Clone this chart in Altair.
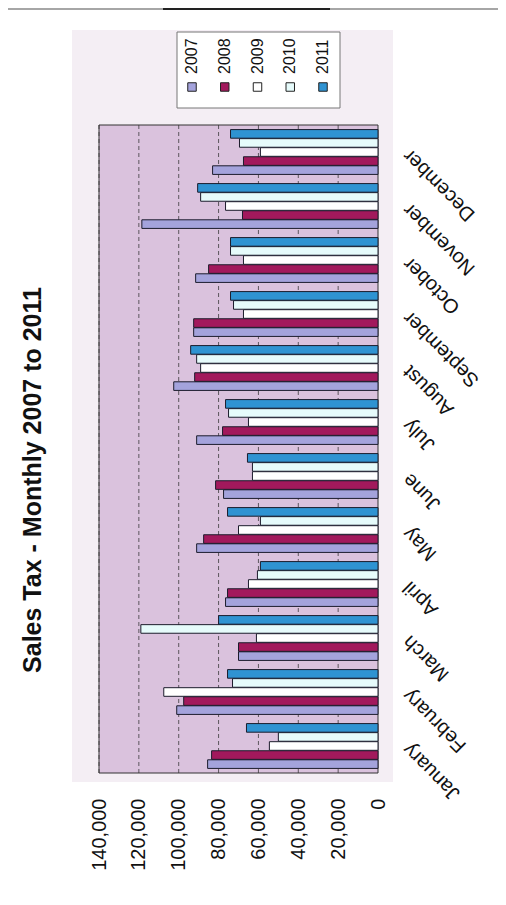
import altair as alt
import pandas as pd

months = ["January", "February", "March", "April", "May", "June", "July",
          "August", "September", "October", "November", "December"]
years = ["2007", "2008", "2009", "2010", "2011"]

v2007 = [85500, 101000, 70000, 76500, 91000, 77500, 91000, 102500, 92500, 91500, 118500, 83000]
v2008 = [83500, 97500, 70000, 75500, 87500, 81500, 78000, 92000, 92500, 85000, 68000, 67500]
v2009 = [54500, 107500, 61000, 65000, 70000, 63000, 65000, 89000, 67500, 67500, 76500, 59000]
v2010 = [50000, 73000, 119000, 60500, 59000, 63000, 75000, 91000, 72500, 74000, 89000, 69500]
v2011 = [66000, 75500, 80000, 59000, 75500, 65500, 76500, 94000, 74000, 74000, 90500, 74000]

tick_values = [0, 20000, 40000, 60000, 80000, 100000, 120000, 140000]
title_text = "Sales Tax - Monthly 2007 to 2011"

rows = []
for yr, vals in zip(years, [v2007, v2008, v2009, v2010, v2011]):
    for m, v in zip(months, vals):
        rows.append({"month": m, "year": yr, "value": v})
df = pd.DataFrame(rows)
one = pd.DataFrame({"k": [0]})
grid_df = pd.DataFrame({"tick": tick_values[1:]})
leg_df = pd.DataFrame({"year": years})

W, H = 279, 648
FONT = "Liberation Sans"
colors = ["#a4a3dc", "#a2195c", "#ffffff", "#e6fbfb", "#2f93d2"]
color_scale = alt.Scale(domain=years, range=colors)
xscale = alt.Scale(domain=[0, 140000], reverse=True, nice=False)

x_axis = alt.Axis(values=tick_values, format=",d", labelAngle=270, labelFontSize=20,
                  labelFont=FONT, labelColor="#111", labelPadding=25, ticks=False,
                  domain=False, grid=False, title=None, labelFlush=False,
                  labelOverlap=False)
y_axis = alt.Axis(orient="right", labelAngle=225, labelAlign="right",
                  labelBaseline="middle", labelFontSize=20, labelFont=FONT,
                  labelColor="#111", labelPadding=24, tickBand="extent", tickSize=4,
                  tickColor="#111", domainColor="#111", title=None, labelOverlap=False)

panel = alt.Chart(one).mark_rect(fill="#f4eef4").encode(
    x=alt.value(-27), x2=alt.value(294), y=alt.value(-95), y2=alt.value(657))
plotbg = alt.Chart(one).mark_rect(fill="#dac2dd", stroke="#333", strokeWidth=1).encode(
    x=alt.value(0), x2=alt.value(W), y=alt.value(0), y2=alt.value(H))
top_line = alt.Chart(one).mark_rule(color="#888", strokeWidth=1.5).encode(
    x=alt.value(-91), x2=alt.value(399), y=alt.value(-116))
top_dark = alt.Chart(one).mark_rule(color="#222", strokeWidth=2).encode(
    x=alt.value(64), x2=alt.value(231), y=alt.value(-116))
right_line = alt.Chart(one).mark_rule(color="#ddd", strokeWidth=1.5).encode(
    x=alt.value(401), y=alt.value(-110), y2=alt.value(770))

grid = alt.Chart(grid_df).mark_rule(color="#333", strokeDash=[4, 3], strokeWidth=1,
                                    opacity=0.75).encode(
    x=alt.X("tick:Q", scale=xscale, axis=None), y=alt.value(0), y2=alt.value(H))

bars = alt.Chart(df).mark_bar(stroke="#1c1c2c", strokeWidth=1).encode(
    x=alt.X("value:Q", scale=xscale, axis=x_axis),
    y=alt.Y("month:N", sort=list(reversed(months)),
            scale=alt.Scale(paddingInner=0.17, paddingOuter=0.085), axis=y_axis),
    yOffset=alt.YOffset("year:N", sort=list(reversed(years)),
                        scale=alt.Scale(paddingInner=0.05)),
    color=alt.Color("year:N", scale=color_scale, legend=None),
)

leg_x = alt.X("year:N", scale=alt.Scale(type="point", domain=years, range=[93, 224],
                                        padding=0), axis=None)
legbox = alt.Chart(one).mark_rect(fill="white", stroke="#777", strokeWidth=1).encode(
    x=alt.value(78), x2=alt.value(241), y=alt.value(-93), y2=alt.value(-17))
legsym = alt.Chart(leg_df).mark_square(size=72, stroke="#222", strokeWidth=1,
                                       opacity=1).encode(
    x=leg_x, y=alt.value(-38),
    color=alt.Color("year:N", scale=color_scale, legend=None))
legtxt = alt.Chart(leg_df).mark_text(angle=270, align="left", baseline="middle",
                                     fontSize=16, font=FONT, color="#111").encode(
    x=leg_x, y=alt.value(-51), text="year:N")

title = alt.Chart(one).mark_text(text=title_text, angle=270, fontSize=25,
                                 fontWeight="bold", font=FONT, color="#111",
                                 align="center", baseline="middle").encode(
    x=alt.value(-66), y=alt.value(355))

chart = alt.layer(panel, plotbg, top_line, top_dark, right_line, grid, bars,
                  legbox, legsym, legtxt, title).resolve_scale(
    x="independent"
).properties(
    width=W, height=H,
    autosize=alt.AutoSizeParams(type="none"),
    padding={"left": 91, "top": 117, "right": 120, "bottom": 124},
    background="white",
).configure_view(stroke=None)

chart.save("out.html", embed_options={"renderer": "svg", "actions": False})
